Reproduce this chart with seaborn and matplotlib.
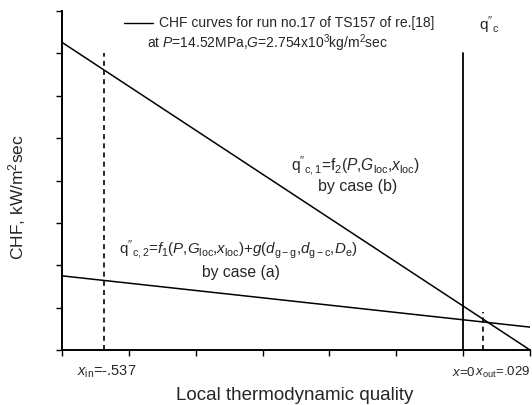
import numpy as np
import pandas as pd
import matplotlib
matplotlib.use("Agg")
import matplotlib.pyplot as plt
import seaborn as sns

# ---- data ----
x_ends = [-0.6, 0.1]                 # local thermodynamic quality range
chf_case_b = [7.26, 0.0]             # q"c,1 = f2(P,Gloc,xloc)
chf_case_a = [1.75, 0.54]            # q"c,2 = f1(...) + g(...)
x_in = -0.537
x_sat = 0.0
x_out = 0.029
top_in = 7.0
top_sat = 7.0
top_out = 0.9
x_ticks = [-0.6, -0.5, -0.4, -0.3, -0.2, -0.1, 0.0, 0.1]
y_ticks = [0, 1, 2, 3, 4, 5, 6, 7, 8]

sns.set_style("ticks")
plt.rcParams['font.family'] = ['Liberation Sans', 'DejaVu Sans']
plt.rcParams['mathtext.fontset'] = 'custom'
plt.rcParams['mathtext.rm'] = 'Liberation Sans'
plt.rcParams['mathtext.it'] = 'Liberation Sans:italic'
plt.rcParams['mathtext.bf'] = 'Liberation Sans:bold'

df = pd.DataFrame({
    "x": x_ends * 2,
    "chf": chf_case_b + chf_case_a,
    "case": ["b"] * 2 + ["a"] * 2,
})

fig = plt.figure(figsize=(5.32, 4.05), dpi=100)
ax = fig.add_axes([62 / 532, 55 / 405, 468 / 532, 339 / 405])

sns.lineplot(data=df, x="x", y="chf", units="case", estimator=None,
             color="black", linewidth=1.1, ax=ax, legend=False)

ax.plot([x_sat, x_sat], [0, top_sat], color="black", lw=1.3)
ax.plot([x_in, x_in], [0, top_in], color="black", lw=1.2, ls=(0, (3, 2.5)))
ax.plot([x_out, x_out], [0, top_out], color="black", lw=1.2, ls=(0, (3, 2.5)))

ax.set_xlim(-0.6, 0.1)
ax.set_ylim(0, 8)
ax.set_xticks(x_ticks)
ax.set_yticks(y_ticks)
ax.set_xticklabels([])
ax.set_yticklabels([])
ax.tick_params(axis="both", direction="out", length=4, width=1, color="black")
for s in ["top", "right"]:
    ax.spines[s].set_visible(False)
for s in ["left", "bottom"]:
    ax.spines[s].set_linewidth(1.4)
    ax.spines[s].set_color("black")

ax.set_xlabel("Local thermodynamic quality", fontsize=13.5, va="center")
ax.xaxis.set_label_coords(0.498, -0.133)
ax.set_ylabel("CHF, kW/m$^2$sec", fontsize=12.5, va="center")
ax.yaxis.set_label_coords(-0.096, 0.451)

# legend-like annotation
ax.plot([-0.507, -0.464], [7.71, 7.71], color="black", lw=1.0, clip_on=False)
ax.text(-0.455, 7.71, "CHF curves for run no.17 of TS157 of re.[18]",
        fontsize=10, va="center", ha="left")
ax.text(-0.473, 7.24, r"at $P$=14.52MPa,$G$=2.754x10$^3$kg/m$^2$sec",
        fontsize=10, va="center", ha="left")

ax.text(0.023, 7.67, r"q$''_{\rm c}$", fontsize=11, va="center", ha="left")

ax.text(-0.161, 4.36, r"q$''_{\rm c,1}$=f$_2$($P$,$G_{\rm loc}$,$x_{\rm loc}$)",
        fontsize=11.2, va="center", ha="center")
ax.text(-0.158, 3.86, "by case (b)", fontsize=11.5, va="center", ha="center")

ax.text(-0.336, 2.36,
        r"q$''_{\rm c,2}$=$f_1$($P$,$G_{\rm loc}$,$x_{\rm loc}$)+$g$($d_{\rm g-g}$,$d_{\rm g-c}$,$D_{\rm e}$)",
        fontsize=10.9, va="center", ha="center")
ax.text(-0.333, 1.84, "by case (a)", fontsize=11.3, va="center", ha="center")

ax.text(-0.577, -0.52, r"$x_{\rm in}$=-.537", fontsize=10.5, va="center", ha="left", clip_on=False)
ax.text(-0.017, -0.52, r"$x$=0", fontsize=9.5, va="center", ha="left", clip_on=False)
ax.text(0.018, -0.52, r"$x_{\rm out}$=.029", fontsize=9.5, va="center", ha="left", clip_on=False)

fig.savefig("out.png", dpi=100)
